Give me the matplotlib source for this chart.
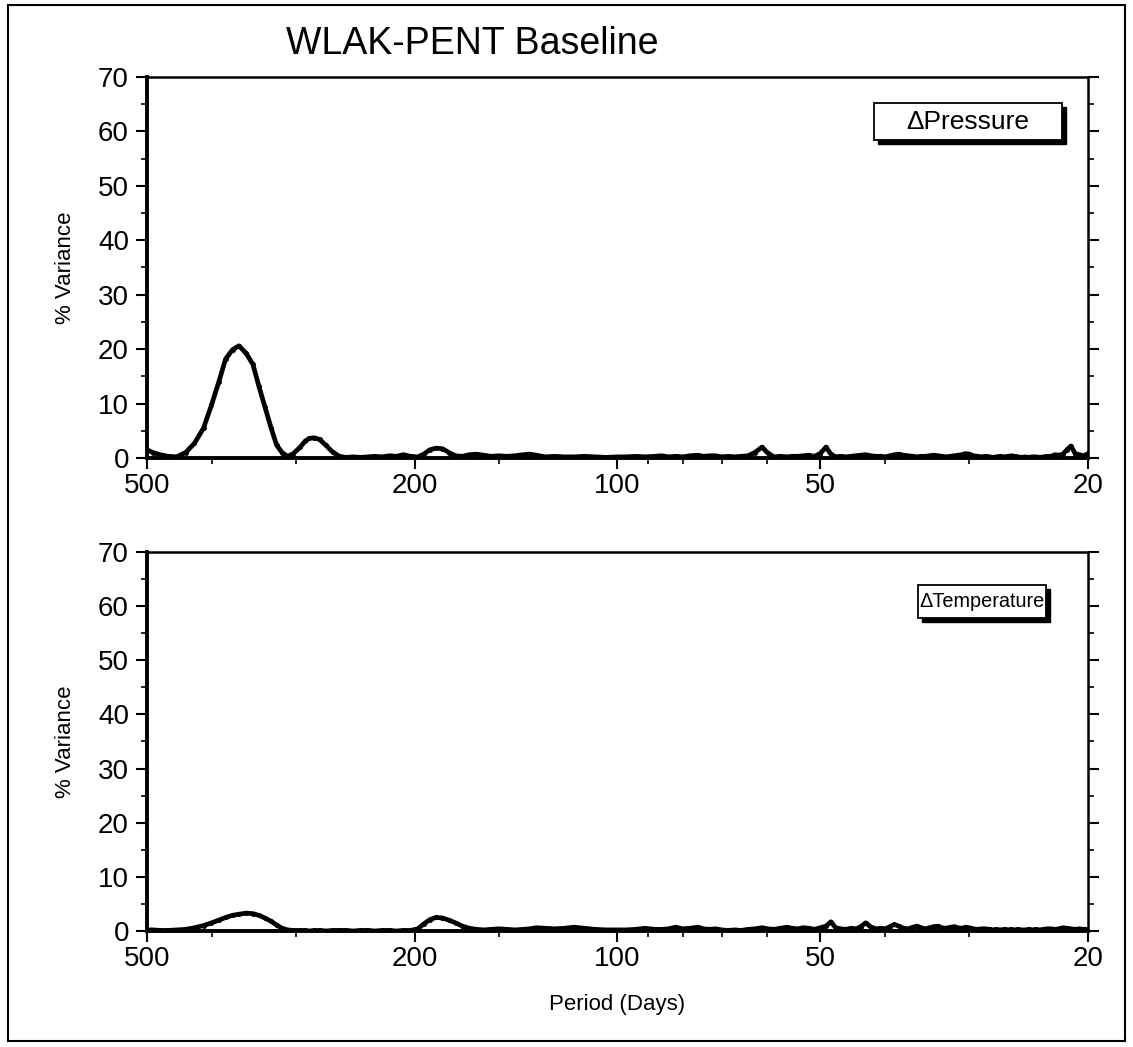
import matplotlib
matplotlib.use("Agg")
import matplotlib.pyplot as plt
from matplotlib.patches import Rectangle
from matplotlib.ticker import FixedLocator, NullFormatter
import numpy as np

plt.rcParams['font.family'] = ['Liberation Sans', 'DejaVu Sans']

# period (days) on the spectral grid
period = [500, 490, 478, 465, 452, 438, 425, 412, 401, 391,
          382, 373, 365, 356, 348, 341, 334, 327, 321, 315,
          309, 303, 296, 291, 287, 282, 277, 271, 265, 259,
          253, 247, 241, 235, 229, 224, 218, 213, 208, 203,
          198, 194, 190, 186, 182, 178, 174, 170, 166, 162,
          158, 154, 150, 146, 142, 138, 135, 132, 128, 124,
          120, 116, 112, 108, 104, 100, 97, 94, 91, 88,
          86, 84, 82, 80, 78, 76, 74.5, 73, 71.5, 70,
          68.5, 67, 65.5, 64, 62.5, 61, 59.8, 58.5, 57.3, 56,
          55, 54, 53, 52, 51, 50, 49, 48.2, 47.4, 46.6,
          45.8, 45, 44.2, 43.5, 42.8, 42, 41.3, 40.6, 40, 39.4,
          38.8, 38.2, 37.6, 37, 36.4, 35.9, 35.4, 34.9, 34.4, 33.9,
          33.4, 33, 32.5, 32, 31.6, 31.2, 30.8, 30.4, 30, 29.6,
          29.2, 28.8, 28.4, 28, 27.7, 27.4, 27, 26.6, 26.3, 26,
          25.7, 25.4, 25.1, 24.8, 24.5, 24.2, 23.9, 23.6, 23.3, 23,
          22.7, 22.4, 22.1, 21.8, 21.5, 21.2, 20.9, 20.6, 20.3, 20]

var_pressure = [1.5, 1.0, 0.6, 0.3, 0.2, 1.0, 2.7, 5.5, 9.7, 14.0,
                18.2, 19.9, 20.6, 19.2, 17.2, 13.2, 9.4, 5.5, 2.4, 1.0,
                0.3, 0.8, 2.0, 3.1, 3.6, 3.7, 3.4, 2.3, 1.1, 0.3,
                0.1, 0.2, 0.1, 0.2, 0.3, 0.2, 0.4, 0.3, 0.6, 0.3,
                0.2, 0.7, 1.5, 1.8, 1.7, 1.0, 0.4, 0.3, 0.6, 0.7,
                0.5, 0.3, 0.4, 0.3, 0.4, 0.6, 0.7, 0.5, 0.2, 0.3,
                0.2, 0.2, 0.3, 0.2, 0.1, 0.2, 0.2, 0.3, 0.2, 0.3,
                0.4, 0.2, 0.3, 0.2, 0.4, 0.5, 0.3, 0.4, 0.4, 0.2,
                0.3, 0.2, 0.3, 0.4, 1.0, 2.0, 0.9, 0.2, 0.3, 0.2,
                0.3, 0.3, 0.4, 0.5, 0.3, 0.8, 2.0, 0.7, 0.2, 0.3,
                0.2, 0.3, 0.4, 0.5, 0.6, 0.4, 0.3, 0.3, 0.2, 0.4,
                0.6, 0.7, 0.5, 0.4, 0.3, 0.2, 0.3, 0.3, 0.4, 0.5,
                0.4, 0.3, 0.2, 0.3, 0.4, 0.5, 0.6, 0.8, 0.7, 0.4,
                0.3, 0.2, 0.3, 0.2, 0.1, 0.2, 0.3, 0.2, 0.3, 0.4,
                0.3, 0.2, 0.1, 0.2, 0.1, 0.2, 0.2, 0.1, 0.2, 0.3,
                0.3, 0.6, 0.5, 0.7, 1.5, 2.2, 0.8, 0.6, 0.4, 0.8]

var_temperature = [0.2, 0.2, 0.1, 0.1, 0.2, 0.3, 0.6, 1.0, 1.5, 2.0,
                   2.5, 2.9, 3.1, 3.3, 3.2, 2.9, 2.4, 1.8, 1.1, 0.5,
                   0.2, 0.1, 0.1, 0.1, 0.0, 0.1, 0.1, 0.0, 0.1, 0.1,
                   0.1, 0.0, 0.1, 0.1, 0.0, 0.1, 0.1, 0.0, 0.1, 0.1,
                   0.4, 1.3, 2.1, 2.5, 2.4, 2.0, 1.5, 0.9, 0.5, 0.3,
                   0.2, 0.3, 0.4, 0.3, 0.2, 0.3, 0.4, 0.6, 0.5, 0.4,
                   0.5, 0.7, 0.5, 0.3, 0.2, 0.2, 0.2, 0.3, 0.5, 0.3,
                   0.3, 0.4, 0.7, 0.4, 0.5, 0.7, 0.4, 0.3, 0.4, 0.2,
                   0.1, 0.2, 0.1, 0.3, 0.4, 0.6, 0.4, 0.3, 0.5, 0.7,
                   0.5, 0.4, 0.6, 0.5, 0.3, 0.6, 0.9, 1.7, 0.6, 0.4,
                   0.3, 0.5, 0.4, 0.8, 1.5, 0.7, 0.4, 0.5, 0.4, 0.8,
                   1.2, 0.9, 0.5, 0.4, 0.7, 0.9, 0.6, 0.4, 0.6, 0.8,
                   0.9, 0.6, 0.5, 0.7, 0.8, 0.6, 0.5, 0.7, 0.6, 0.4,
                   0.3, 0.4, 0.4, 0.3, 0.2, 0.3, 0.2, 0.3, 0.2, 0.3,
                   0.2, 0.3, 0.2, 0.2, 0.3, 0.2, 0.3, 0.2, 0.3, 0.4,
                   0.4, 0.3, 0.4, 0.6, 0.5, 0.4, 0.3, 0.4, 0.3, 0.3]

x_ticks = [500, 200, 100, 50, 20]
x_minor = [400, 300, 150, 90, 80, 70, 60, 40, 30]
labels = ["\u0394Pressure", "\u0394Temperature"]

fig = plt.figure(figsize=(11.33, 10.47), dpi=100)
fig.patches.append(Rectangle((0.007, 0.006), 0.986, 0.989, transform=fig.transFigure,
                             fill=False, edgecolor='black', linewidth=1.5))

ax1 = fig.add_axes([0.1297, 0.5626, 0.8306, 0.3639])
ax2 = fig.add_axes([0.1297, 0.1108, 0.8306, 0.3620])

series = [var_pressure, var_temperature]
# label boxes: (x0, y0, w, h) in axes fraction, text centre, font size
boxes = [(0.7726, 0.8346, 0.1998, 0.0972), (0.8193, 0.8259, 0.1360, 0.0870)]
text_xy = [(0.8725, 0.883), (0.8873, 0.869)]
text_fs = [19, 14.3]

for ax, vals, lab, bx, txy, fs in zip([ax1, ax2], series, labels, boxes, text_xy, text_fs):
    ax.plot(period, vals, color='black', linewidth=3.4, marker='o', markersize=2.5,
            solid_joinstyle='round')
    ax.set_xscale('log')
    ax.set_xlim(500, 20)
    ax.set_ylim(0, 70)
    ax.xaxis.set_major_locator(FixedLocator(x_ticks))
    ax.xaxis.set_minor_locator(FixedLocator(x_minor))
    ax.xaxis.set_minor_formatter(NullFormatter())
    ax.set_xticklabels([str(t) for t in x_ticks])
    ax.set_yticks(np.arange(0, 71, 10))
    ax.set_yticks(np.arange(5, 70, 10), minor=True)
    ax.tick_params(axis='both', which='major', direction='out', length=8, width=1.5,
                   labelsize=20, right=True, top=False)
    ax.tick_params(axis='both', which='minor', direction='out', length=4, width=1.2,
                   right=True, top=False)
    ax.tick_params(axis='x', pad=3)
    ax.tick_params(axis='y', pad=5)
    for side in ['left', 'bottom']:
        ax.spines[side].set_linewidth(2.8)
    for side in ['top', 'right']:
        ax.spines[side].set_linewidth(1.8)
    ax.set_ylabel('% Variance', fontsize=16, labelpad=16)

    # label box with drop shadow
    ax.add_patch(Rectangle((bx[0] + 0.0045, bx[1] - 0.011), bx[2], bx[3],
                           transform=ax.transAxes, facecolor='black', edgecolor='black',
                           zorder=4))
    ax.add_patch(Rectangle((bx[0], bx[1]), bx[2], bx[3], transform=ax.transAxes,
                           facecolor='white', edgecolor='black', linewidth=1.3, zorder=5))
    ax.text(txy[0], txy[1], lab, transform=ax.transAxes, fontsize=fs, ha='center',
            va='center', color='black', zorder=6)

ax2.set_xlabel('Period (Days)', fontsize=16, labelpad=16)
fig.text(0.417, 0.958, 'WLAK-PENT Baseline', fontsize=27, ha='center', va='center')

fig.savefig('out.png', dpi=100)
